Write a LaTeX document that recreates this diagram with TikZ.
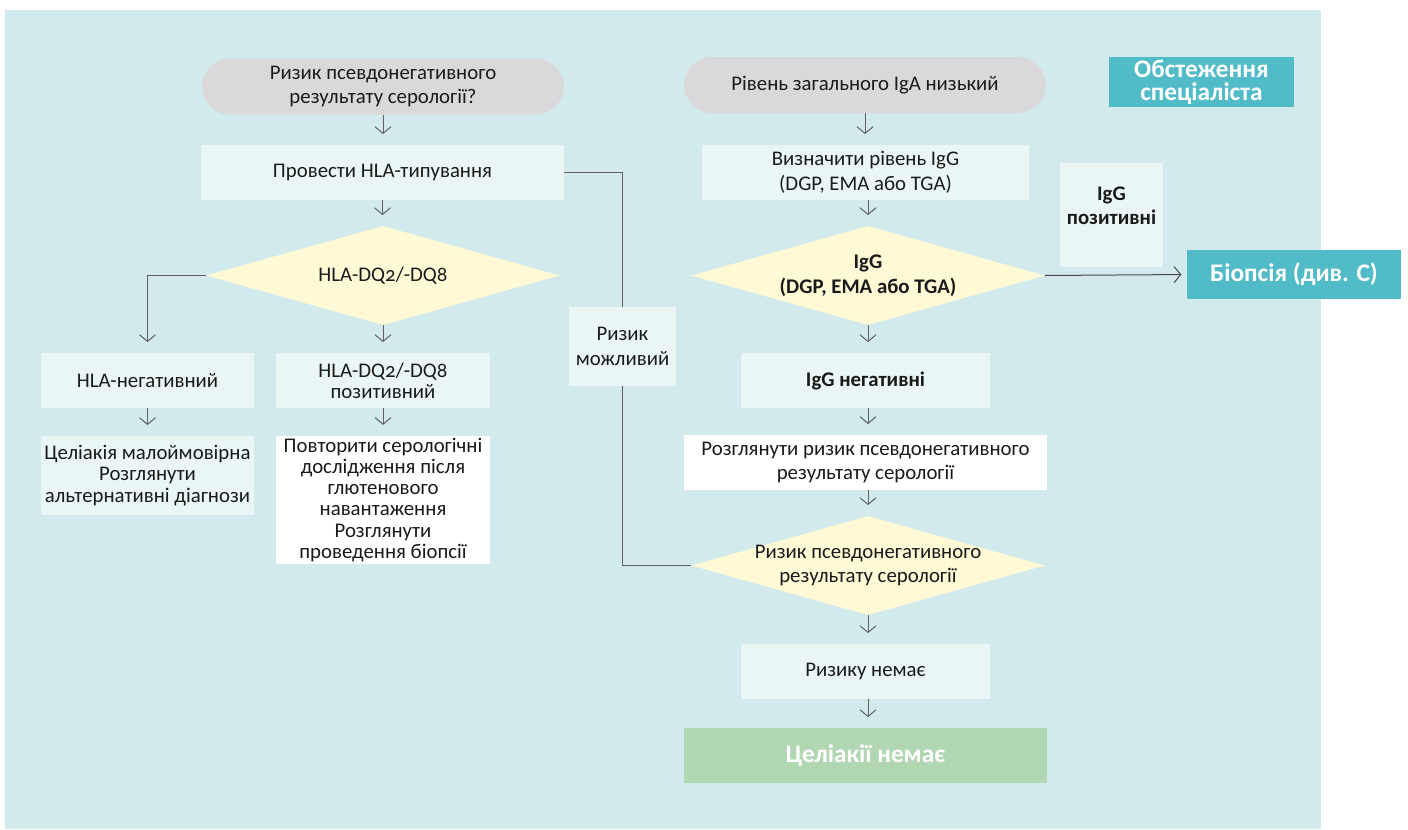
\documentclass[tikz,border=0pt]{standalone}
\usepackage{fontspec}
\setmainfont{Carlito}[Numbers=OldStyle]
\usetikzlibrary{shapes.geometric,arrows.meta}
\definecolor{panel}{HTML}{D3EAEC}
\definecolor{boxfill}{HTML}{EAF6F6}
\definecolor{termfill}{HTML}{D9D9DB}
\definecolor{decfill}{HTML}{FFF9D6}
\definecolor{accent}{HTML}{52BBC8}
\definecolor{done}{HTML}{B1D6B2}
\definecolor{ink}{HTML}{1A1A1A}
\definecolor{wire}{HTML}{606060}

\begin{document}
\begin{tikzpicture}[x=0.75pt,y=-0.75pt,
  every node/.style={font=\fontsize{15.6}{18.5}\selectfont,text=ink,align=center,inner sep=2pt},
  strong/.style={font=\fontsize{15.6}{18.5}\selectfont\bfseries},
  tight/.style={font=\fontsize{15.6}{15.8}\selectfont},
  terminal/.style={fill=termfill,rounded corners=21pt,minimum width=271.5pt,minimum height=42pt},
  stepbox/.style={fill=boxfill,minimum height=41.25pt},
  plain/.style={fill=white,minimum height=41.25pt},
  decision/.style={diamond,fill=decfill,inner sep=0pt,minimum width=265pt,minimum height=74.25pt},
  outcome/.style={fill=accent,text=white,font=\fontsize{19}{17.3}\selectfont\bfseries},
  flow/.style={draw=wire,line width=0.75pt,-{Straight Barb[length=5pt,width=12pt]},shorten >=8pt},
  wireline/.style={draw=wire,line width=0.75pt}]
  \useasboundingbox (0,0) rectangle (1408,829);
  \fill[panel] (5,10) rectangle (1321,829);

  \node[terminal] (risk) at (383,86.5) {Ризик псевдонегативного\\результату серології?};
  \node[stepbox,minimum width=272.25pt] (typing) at (382.5,172.5) {Провести HLA-типування};
  \node[decision,label=center:{HLA-DQ2/-DQ8}] (dq) at (383,275.5) {};
  \node[stepbox,minimum width=159.75pt] (neg) at (147.5,380.5) {HLA-негативний};
  \node[stepbox,tight,minimum width=160.5pt] (pos) at (383,380.5) {HLA-DQ2/-DQ8\\позитивний};
  \node[stepbox,tight,minimum width=159.75pt,minimum height=59.25pt] (unlikely) at (147.5,475.5) {Целіакія малоймовірна\\Розглянути\\альтернативні діагнози};
  \node[plain,tight,minimum width=160.5pt,minimum height=94.5pt] (repeat) at (383,500) {Повторити серологічні\\дослідження після\\глютенового\\навантаження\\Розглянути\\проведення біопсії};
  \node[stepbox,minimum width=80.25pt,minimum height=59.25pt] (possible) at (622.5,346.5) {Ризик\\можливий};

  \node[terminal] (iga) at (865,85) {Рівень загального IgA низький};
  \node[stepbox,minimum width=245.25pt] (iggtest) at (865.5,172.5) {Визначити рівень IgG\\(DGP, EMA або TGA)};
  \node[decision,label={[strong]center:{IgG\\(DGP, EMA або TGA)}}] (iggdia) at (868,275.5) {};
  \node[stepbox,strong,minimum width=77.25pt,minimum height=78pt,text depth=14pt] (iggpos) at (1111.5,215) {IgG\\позитивні};
  \node[outcome,minimum width=160.5pt,minimum height=36.75pt] (biopsy) at (1294,274.5) {Біопсія (див. С)};
  \node[outcome,minimum width=138.75pt,minimum height=37.5pt] (expert) at (1201.5,82) {Обстеження\\спеціаліста};
  \node[stepbox,strong,minimum width=186.75pt] (iggneg) at (865.5,380.5) {IgG негативні};
  \node[plain,minimum width=272.25pt] (consider) at (865.5,462.5) {Розглянути ризик псевдонегативного\\результату серології};
  \node[decision,label=center:{Ризик псевдонегативного\\результату серології}] (riskdia) at (868,565.5) {};
  \node[stepbox,minimum width=186.75pt] (norisk) at (865.5,671.5) {Ризику немає};
  \node[outcome,fill=done,minimum width=272.25pt,minimum height=41.25pt] (nocd) at (865.5,755.5) {Целіакії немає};

  \draw[flow] (risk.south) -- (risk.south |- typing.north);
  \draw[flow] (typing.south) -- (typing.south |- dq.north);
  \draw[flow] (dq.west) -| (neg.north);
  \draw[flow] (dq.south) -- (pos.north);
  \draw[flow] (neg.south) -- (unlikely.north);
  \draw[flow] (pos.south) -- (repeat.north);
  \draw[wireline] (typing.east) -| (possible.north);
  \draw[wireline] (possible.south) |- (riskdia.west);

  \draw[flow] (iga.south) -- (iga.south |- iggtest.north);
  \draw[flow] (iggdia.south |- iggtest.south) -- (iggdia.north);
  \draw[flow] (iggdia.south) -- (iggdia.south |- iggneg.north);
  \draw[flow,draw=ink!80,shorten >=4pt] (iggdia.east) -- (biopsy.west);
  \draw[flow] (iggdia.south |- iggneg.south) -- (iggdia.south |- consider.north);
  \draw[flow] (iggdia.south |- consider.south) -- (riskdia.north);
  \draw[flow] (riskdia.south) -- (riskdia.south |- norisk.north);
  \draw[flow] (riskdia.south |- norisk.south) -- (riskdia.south |- nocd.north);
\end{tikzpicture}
\end{document}
